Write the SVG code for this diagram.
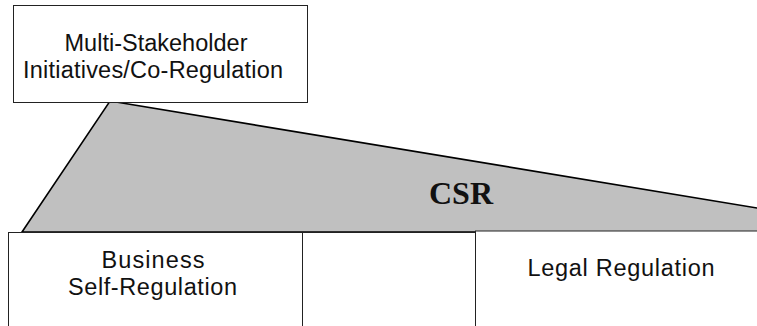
<svg xmlns="http://www.w3.org/2000/svg" width="757" height="326" viewBox="0 0 757 326">
<style>
.box{fill:#fff;stroke:#222;stroke-width:1}
.lbl{font-family:"Liberation Sans",Arial,sans-serif;font-size:23.5px;fill:#111;text-anchor:middle}
.csr{font-family:"Liberation Serif","Times New Roman",serif;font-size:32px;font-weight:bold;fill:#111;text-anchor:middle}
</style>
<rect width="757" height="326" fill="#fff"/>
<g id="connectors">
<polygon id="csr-wedge" points="110,101 760,208.5 760,232 22,232" fill="#c0c0c0" stroke="#000" stroke-width="1.6" stroke-linejoin="miter"/>
</g>
<g id="csr">
<text class="csr" x="461" y="204">CSR</text>
</g>
<g id="multi">
<rect class="box" x="13.5" y="5.5" width="294" height="97"/>
<text class="lbl" x="156" y="51" textLength="183" lengthAdjust="spacing">Multi-Stakeholder</text>
<text class="lbl" x="153" y="78" textLength="260" lengthAdjust="spacing">Initiatives/Co-Regulation</text>
</g>
<g id="middle">
<rect class="box" x="302.5" y="232.5" width="173" height="110"/>
</g>
<g id="business">
<rect class="box" x="8.5" y="232.5" width="294" height="110"/>
<text class="lbl" x="153" y="268" textLength="103" lengthAdjust="spacing">Business</text>
<text class="lbl" x="152.5" y="295" textLength="169" lengthAdjust="spacing">Self-Regulation</text>
</g>
<g id="legal">
<rect class="box" x="475.5" y="231" width="300" height="110"/>
<text class="lbl" x="621" y="276" textLength="187" lengthAdjust="spacing">Legal Regulation</text>
</g>
</svg>
